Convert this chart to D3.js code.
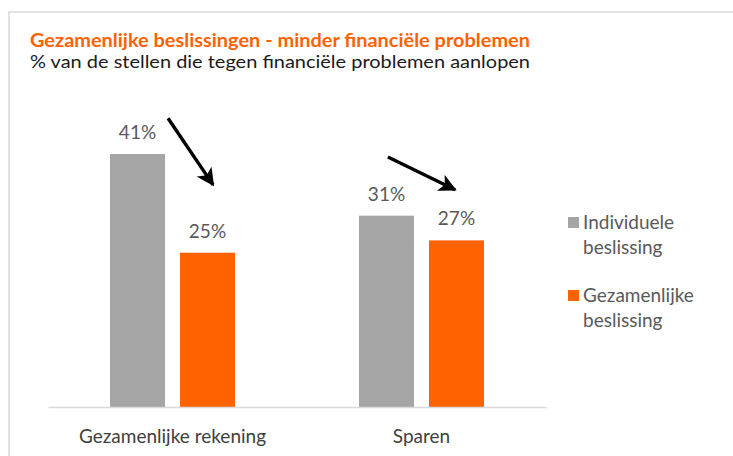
<!DOCTYPE html>
<html><head><meta charset="utf-8">
<script src="https://cdn.jsdelivr.net/npm/d3@7"></script>
<style>html,body{margin:0;padding:0;background:#fff;}svg{display:block;font-family:Lato,"Open Sans",sans-serif;}</style>
</head><body>
<svg id="c" width="733" height="456"></svg>
<script>
const categories = ["Gezamenlijke rekening", "Sparen"];
const seriesNames = ["Individuele beslissing", "Gezamenlijke beslissing"];
const individuele = [41, 31];
const gezamenlijke = [25, 27];
const valueLabels = [["41%", "31%"], ["25%", "27%"]];
const legendLines = [["Individuele", "beslissing"], ["Gezamenlijke", "beslissing"]];
// arrows: band-relative x fraction and value position
const arrowCat = ["Gezamenlijke rekening", "Sparen"];
const arrowFrom = [[0.482, 46.8], [0.365, 40.5]];
const arrowTo = [[0.663, 36.0], [0.635, 35.2]];

const colors = ["#A5A5A5", "#FF6200"];
const svg = d3.select("#c");

// frame
svg.append("rect").attr("x", 9).attr("y", 12).attr("width", 800).attr("height", 500)
  .attr("fill", "none").attr("stroke", "#D9D9D9").attr("stroke-width", 1.5);

// titles
svg.append("text").attr("x", 30).attr("y", 47).attr("fill", "#FF6200")
  .attr("font-size", 18).attr("font-weight", "bold")
  .attr("textLength", 500).attr("lengthAdjust", "spacingAndGlyphs")
  .text("Gezamenlijke beslissingen - minder financiële problemen");
svg.append("text").attr("x", 30).attr("y", 68).attr("fill", "#1a1a1a")
  .attr("font-size", 18)
  .attr("textLength", 500).attr("lengthAdjust", "spacingAndGlyphs")
  .text("% van de stellen die tegen financiële problemen aanlopen");

const x0 = d3.scaleBand().domain(categories).range([48, 546]).padding(0);
const x1 = d3.scaleBand().domain(seriesNames).range([0, 125]).paddingInner(0.214);
const groupOffset = (x0.bandwidth() - 125) / 2;
const y = d3.scaleLinear().domain([0, 45]).range([407, 129.3]);

const series = [individuele, gezamenlijke];
series.forEach((vals, si) => {
  const g = svg.append("g");
  g.selectAll("rect").data(vals).join("rect")
    .attr("x", (d, i) => x0(categories[i]) + groupOffset + x1(seriesNames[si]))
    .attr("y", d => y(d))
    .attr("width", x1.bandwidth())
    .attr("height", d => y(0) - y(d))
    .attr("fill", colors[si]);
  g.selectAll("text").data(vals).join("text")
    .attr("x", (d, i) => x0(categories[i]) + groupOffset + x1(seriesNames[si]) + x1.bandwidth() / 2)
    .attr("y", d => y(d) - 15)
    .attr("text-anchor", "middle").attr("font-size", 19).attr("fill", "#595959")
    .text((d, i) => valueLabels[si][i]);
});

// axis
const axis = d3.axisBottom(x0).tickSize(0).tickPadding(23);
const ag = svg.append("g").attr("transform", `translate(0,${y(0)})`).call(axis);
ag.select(".domain").attr("stroke", "#D9D9D9").attr("stroke-width", 1.5);
ag.selectAll("text").attr("font-size", 19).attr("fill", "#404040").attr("font-family", "Lato,'Open Sans',sans-serif");

// arrows
const defs = svg.append("defs");
defs.append("marker").attr("id", "ah").attr("viewBox", "0 0 10 10").attr("refX", 9).attr("refY", 5)
  .attr("markerWidth", 5.2).attr("markerHeight", 5.2).attr("markerUnits", "strokeWidth").attr("orient", "auto")
  .append("path").attr("d", "M0,0 L10,5 L0,10 L2.5,5 Z").attr("fill", "#000");
arrowCat.forEach((c, i) => {
  svg.append("line")
    .attr("x1", x0(c) + arrowFrom[i][0] * x0.bandwidth()).attr("y1", y(arrowFrom[i][1]))
    .attr("x2", x0(c) + arrowTo[i][0] * x0.bandwidth()).attr("y2", y(arrowTo[i][1]))
    .attr("stroke", "#000").attr("stroke-width", 3.4).attr("marker-end", "url(#ah)");
});

// legend
const lg = svg.append("g");
seriesNames.forEach((s, i) => {
  const top = 217 + i * 73;
  lg.append("rect").attr("x", 568).attr("y", top).attr("width", 11).attr("height", 11).attr("fill", colors[i]);
  legendLines[i].forEach((t, j) => {
    lg.append("text").attr("x", 583).attr("y", top + 12 + j * 25).attr("font-size", 19).attr("fill", "#595959").text(t);
  });
});
</script>
</body></html>
